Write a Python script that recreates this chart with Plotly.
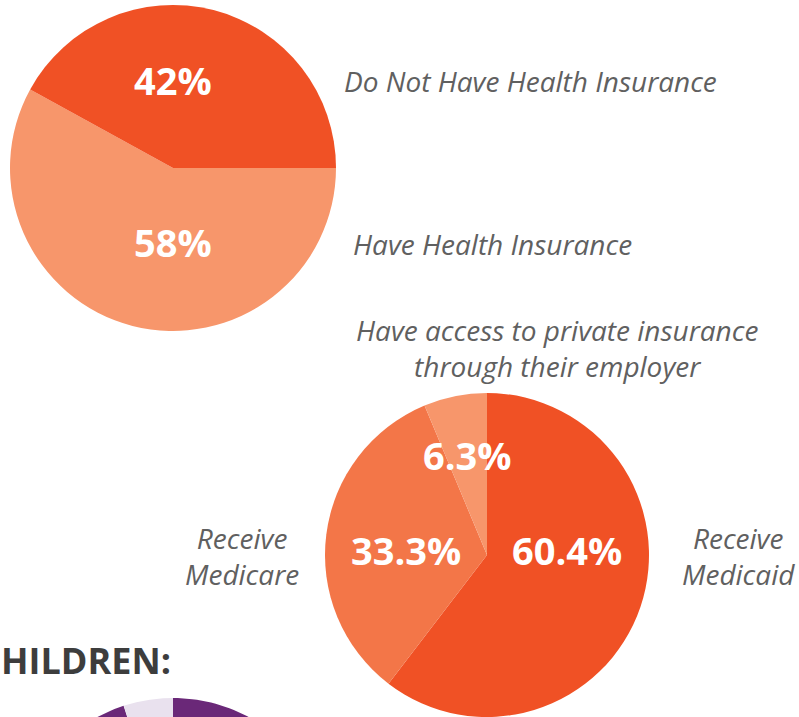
import numpy as np
import plotly.graph_objects as go

W, H = 799, 717

# Data
ins_labels = ["Do Not Have Health Insurance", "Have Health Insurance"]
ins_values = [42, 58]
ins_colors = ["#F05125", "#F7966B"]

cov_labels = ["Receive Medicaid", "Receive Medicare", "Have access to private insurance through their employer"]
cov_values = [60.4, 33.3, 6.3]
cov_colors = ["#F05125", "#F37648", "#F7966B"]

child_values = [95, 5]
child_colors = ["#6A2878", "#E9E1EE"]
child_title = "HILDREN:"


def px(x):
    return x / W


def py(y):
    return 1 - y / H


fig = go.Figure()

# top pie: "Have" slice drawn clockwise from 3 o'clock, then "Do Not Have"
fig.add_trace(go.Pie(
    labels=ins_labels[::-1], values=ins_values[::-1], sort=False,
    direction="clockwise", rotation=90,
    marker=dict(colors=ins_colors[::-1], line=dict(width=0)),
    textinfo="none", hoverinfo="label+percent", showlegend=False,
    domain=dict(x=[px(10), px(336)], y=[py(331), py(5)]),
))

fig.add_trace(go.Pie(
    labels=cov_labels, values=cov_values, sort=False,
    direction="clockwise", rotation=0,
    marker=dict(colors=cov_colors, line=dict(width=0)),
    textinfo="none", hoverinfo="label+percent", showlegend=False,
    domain=dict(x=[px(324), px(650)], y=[0, py(393)]),
))

# Partially visible children pie, drawn on a pixel-scaled cartesian axis
cx, cy, R = 173, 858, 160
total = sum(child_values)
start = 0.0
for v, c in zip(child_values, child_colors):
    a0 = start / total * 2 * np.pi
    a1 = (start + v) / total * 2 * np.pi
    t = np.linspace(a0, a1, 200)
    xs = np.concatenate([[cx], cx + R * np.sin(t), [cx]])
    ys = np.concatenate([[cy], cy - R * np.cos(t), [cy]])
    fig.add_trace(go.Scatter(x=xs, y=ys, fill="toself", fillcolor=c,
                             line=dict(width=0, color=c), mode="lines",
                             hoverinfo="skip", showlegend=False))
    start += v

fig.update_xaxes(range=[0, W], visible=False, fixedrange=True)
fig.update_yaxes(range=[H, 0], visible=False, fixedrange=True)

lab_font = dict(family="Open Sans", size=28, color="#606060", style="italic")
pct_font = dict(family="Open Sans", size=38, color="#FFFFFF", weight="bold")

ann = []
# percent labels
pct_pos_top = [(173, 80), (173, 242)]
for v, (x, y) in zip(ins_values, pct_pos_top):
    ann.append(dict(x=px(x), y=py(y), text=f"{v}%", font=pct_font))
pct_pos_cov = [(567, 550), (406, 550), (467, 455)]
for v, (x, y) in zip(cov_values, pct_pos_cov):
    ann.append(dict(x=px(x), y=py(y), text=f"{v}%", font=pct_font))

# category labels
ann.append(dict(x=px(342), y=py(81), text=ins_labels[0], xanchor="left", font=lab_font))
ann.append(dict(x=px(351), y=py(244), text=ins_labels[1], xanchor="left", font=lab_font))
ann.append(dict(x=px(557), y=py(348), text="Have access to private insurance<br>through their employer", font=lab_font))
ann.append(dict(x=px(242), y=py(556), text="Receive<br>Medicare", font=lab_font))
ann.append(dict(x=px(738), y=py(556), text="Receive<br>Medicaid", font=lab_font))

ann.append(dict(x=0, y=py(660), text=child_title, xanchor="left", borderpad=0,
                font=dict(family="Open Sans", size=36, color="#3D3D3D", weight="bold")))

for a in ann:
    a.setdefault("xanchor", "center")
    a.update(xref="paper", yref="paper", yanchor="middle", showarrow=False)

fig.update_layout(
    width=W, height=H, margin=dict(l=0, r=0, t=0, b=0),
    paper_bgcolor="white", plot_bgcolor="white",
    annotations=ann,
)

fig.write_html("out.html")
